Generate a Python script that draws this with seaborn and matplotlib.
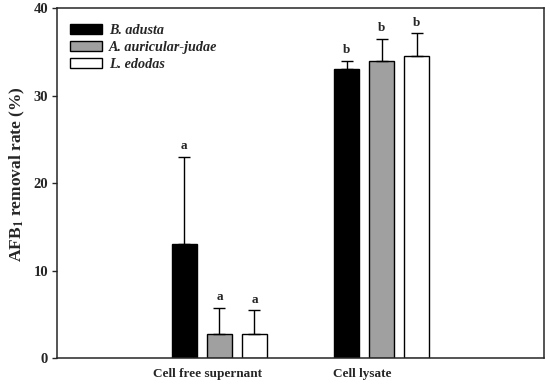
import numpy as np
import pandas as pd
import seaborn as sns
import matplotlib.pyplot as plt
from matplotlib.patches import Patch
from matplotlib.transforms import ScaledTranslation

# data
groups = ["Cell free supernant", "Cell lysate"]
species = ["B. adusta", "A. auricular-judae", "L. edodas"]
black_vals = [13.0, 33.0]
grey_vals = [2.8, 34.0]
white_vals = [2.75, 34.5]
black_err = [10.0, 1.0]
grey_err = [2.9, 2.5]
white_err = [2.7, 2.6]
letters_black = ["a", "b"]
letters_grey = ["a", "b"]
letters_white = ["a", "b"]

colors = ["#000000", "#a0a0a0", "#ffffff"]

df = pd.DataFrame({
    "group": groups * 3,
    "species": [species[0]] * 2 + [species[1]] * 2 + [species[2]] * 2,
    "value": black_vals + grey_vals + white_vals,
})
errs = black_err + grey_err + white_err
letters = letters_black + letters_grey + letters_white

sns.set_style("ticks")
plt.rcParams["font.family"] = ["Liberation Serif", "DejaVu Serif"]
plt.rcParams["mathtext.fontset"] = "stix"
plt.rcParams["font.weight"] = "bold"

fig, ax = plt.subplots(figsize=(5.5, 3.85), dpi=100)
fig.subplots_adjust(left=0.104, right=0.989, top=0.979, bottom=0.07)

sns.barplot(data=df, x="group", y="value", hue="species", order=groups,
            hue_order=species, palette=colors, width=0.648, gap=0.29,
            edgecolor="black", linewidth=1.0, errorbar=None, legend=False, ax=ax)

# error bars (upper only) and significance letters
bars = sorted(ax.patches, key=lambda p: p.get_x())
order_idx = []
for p in bars:
    for i in range(len(df)):
        if np.isclose(df["value"][i], p.get_height()) and i not in order_idx:
            order_idx.append(i)
            break
for p, i in zip(bars, order_idx):
    xc = p.get_x() + p.get_width() / 2
    h = p.get_height()
    ax.errorbar(xc, h, yerr=[[0], [errs[i]]], fmt="none", ecolor="black",
                elinewidth=1.0, capsize=4.5, capthick=1.0)
    ax.annotate(letters[i], (xc, h + errs[i]), xytext=(0, 3.5),
                textcoords="offset points", ha="center", va="bottom",
                fontsize=9.5, fontweight="bold")

ax.set_xlim(-1, 2)
ax.set_ylim(0, 40)
ax.set_yticks([0, 10, 20, 30, 40])
ax.tick_params(axis="y", direction="out", length=3.5, width=1.0, labelsize=10.5, pad=3)
ax.tick_params(axis="x", length=0, labelsize=9.5, pad=7)
for lab in ax.get_yticklabels():
    lab.set_fontweight("bold")
shifts = [-11.5, -19.5]
for lab, s in zip(ax.get_xticklabels(), shifts):
    lab.set_fontweight("bold")
    lab.set_transform(lab.get_transform() + ScaledTranslation(s / 100, 0, fig.dpi_scale_trans))
ax.set_xlabel("")
ax.set_ylabel(r"AFB$_\mathbf{1}$ removal rate (%)", fontsize=12.5, fontweight="bold")
ax.yaxis.set_label_coords(-0.062, 0.527)
for sp in ax.spines.values():
    sp.set_visible(True)
    sp.set_linewidth(1.1)

handles = [Patch(facecolor=c, edgecolor="black", linewidth=1.0) for c in colors]
leg = ax.legend(handles, species, loc="upper left", frameon=False,
                prop={"style": "italic", "weight": "bold", "size": 10.2},
                handlelength=2.25, handleheight=0.7, labelspacing=0.3,
                handletextpad=0.5, borderaxespad=0.0, bbox_to_anchor=(0.015, 0.972))

plt.savefig("out.png", dpi=100)
